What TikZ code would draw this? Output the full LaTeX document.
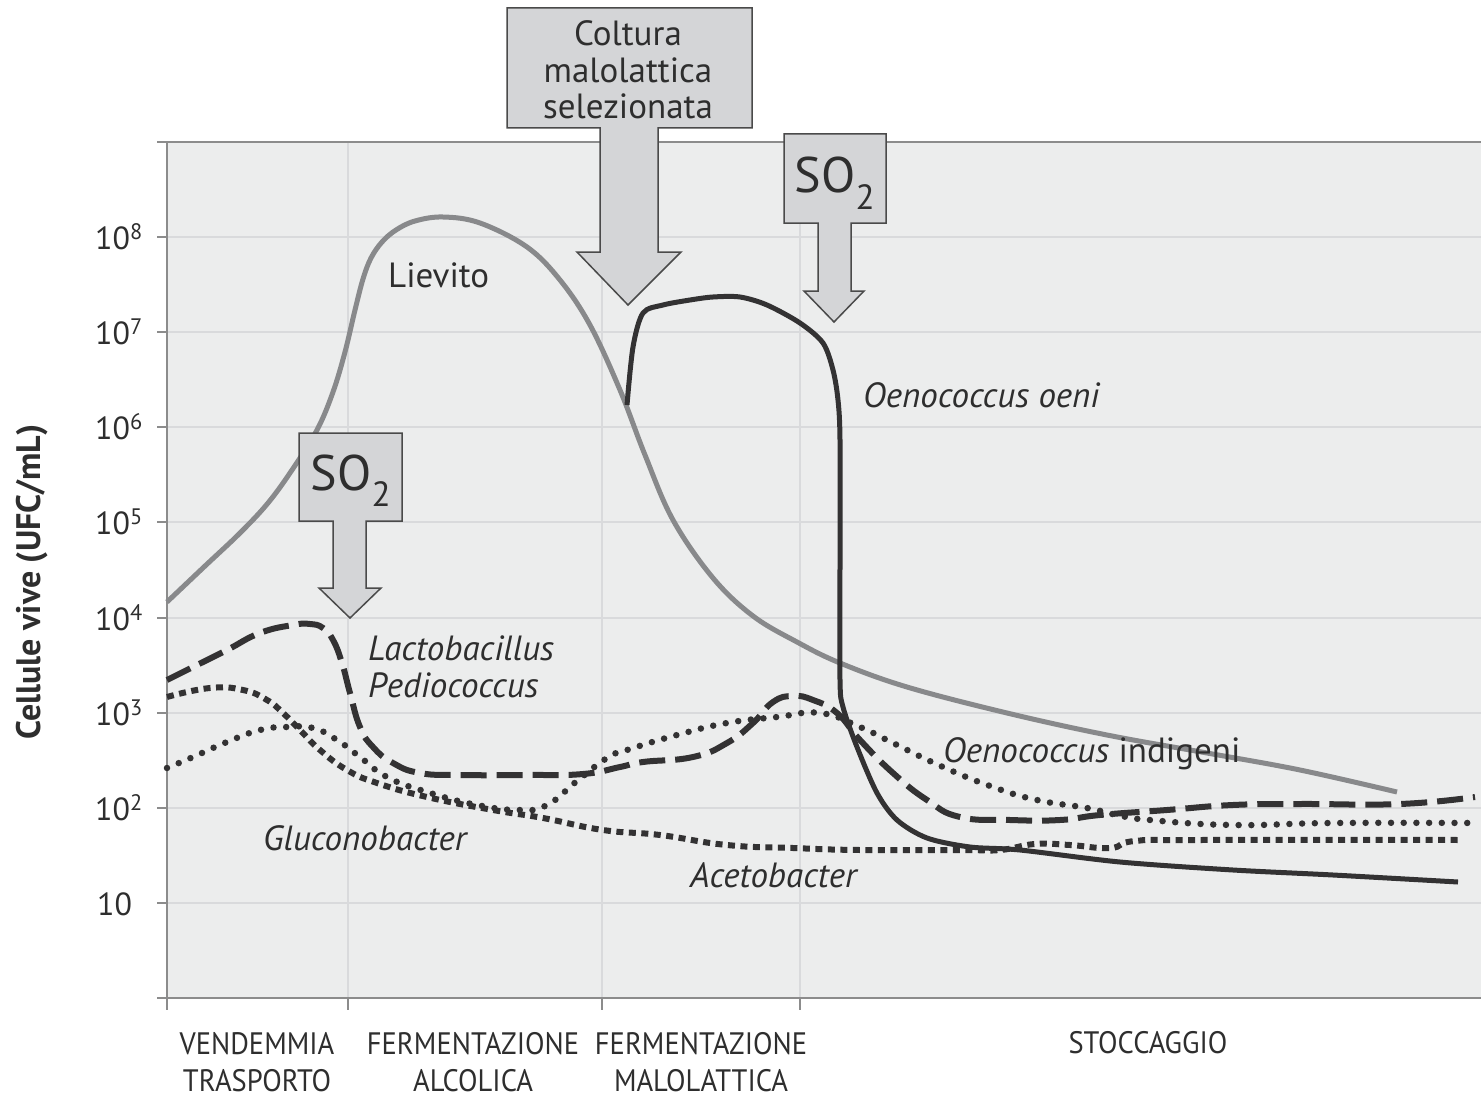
\documentclass[tikz,border=0pt]{standalone}
\usepackage{fontspec}
\setmainfont{PT Sans}
\newfontfamily\narrowfont[FakeStretch=0.92]{PT Sans}
\definecolor{plotbg}{HTML}{ECEDED}
\definecolor{gridgray}{HTML}{D9DADC}
\definecolor{axisgray}{HTML}{8C8C8C}
\definecolor{boxgray}{HTML}{D4D5D7}
\definecolor{edgegray}{HTML}{4A4A4A}
\definecolor{yeastgray}{HTML}{88898B}
\definecolor{curveblack}{HTML}{333233}
\definecolor{txtgray}{HTML}{2E2E2E}
\begin{document}
\begin{tikzpicture}[x=1pt,y=-1pt,
  every node/.style={inner sep=0pt,text=txtgray},
  gridline/.style={draw=gridgray,line width=1.3pt},
  axisline/.style={draw=axisgray,line width=2pt},
  inflow/.style={fill=boxgray,draw=edgegray,line width=1.5pt},
  lievito/.style={draw=yeastgray,line width=5pt,line join=round},
  oeni/.style={draw=curveblack,line width=5pt,line join=round},
  lacto/.style={draw=curveblack,line width=6pt,dash pattern=on 26pt off 10pt},
  aceto/.style={draw=curveblack,line width=6pt,dash pattern=on 7pt off 5.5pt},
  indig/.style={draw=curveblack,line width=6.5pt,line cap=round,dash pattern=on 0pt off 12.7pt},
  ticklab/.style={font=\fontsize{32}{38}\selectfont,anchor=base west},
  lab/.style={font=\fontsize{35}{36.5}\selectfont},
  itlab/.style={font=\fontsize{35}{36.5}\selectfont\itshape,anchor=base west},
  phase/.style={font=\narrowfont\fontsize{31}{37}\selectfont,align=center}]
\useasboundingbox (0,0) rectangle (1481,1097);
\fill[plotbg] (167,142) rectangle (1481,998);
% griglia
\foreach \y in {237,332,427,522,618,713,808,903}
  \draw[gridline] (167,\y) -- (1481,\y);
\foreach \x in {348,602,800}
  \draw[gridline] (\x,142) -- (\x,998);
% assi
\draw[axisline] (157,142) -- (1481,142);
\draw[axisline] (157,998) -- (1481,998);
\draw[axisline] (167,142) -- (167,1010);
\foreach \y in {237,332,427,522,618,713,808,903}
  \draw[axisline] (157,\y) -- (167,\y);
\foreach \x in {348,602,800}
  \draw[axisline] (\x,998) -- (\x,1010);
\foreach \k/\y in {8/237,7/332,6/427,5/522,4/618,3/713,2/808}
  \node[ticklab] (t\k) at (95,\y+12) {10\textsuperscript{\k}};
\node[ticklab] (t1) at (97,915) {10};
\node[font=\bfseries\fontsize{34}{40}\selectfont,rotate=90] (ylab) at (32,582) {Cellule vive (UFC/mL)};
% fasi
\node[phase] (vend) at (257,1062) {VENDEMMIA\\TRASPORTO};
\node[phase] (alco) at (473,1062) {FERMENTAZIONE\\ALCOLICA};
\node[phase] (malo) at (701,1062) {FERMENTAZIONE\\MALOLATTICA};
\node[phase] (stocc) at (1148,1043) {STOCCAGGIO};
% curve
\draw[lievito] plot[smooth,tension=0.6] coordinates {(167,602) (205,566) (240,533) (268,503)
  (292,470) (317,430) (333,392) (345,352) (355,310) (363,279) (371,258) (382,242) (396,230)
  (415,221) (443,217) (480,223) (527,247) (560,280) (590,325) (620,390) (645,455) (673,520)
  (713,578) (753,616) (797,642) (840,663) (907,687) (1007,713) (1107,735) (1207,753)
  (1300,770) (1397,792)};
\draw[aceto] plot[smooth,tension=0.8] coordinates {(167,697) (210,688) (243,690) (267,700)
  (283,713) (300,730) (320,750) (347,770) (377,783) (427,797) (493,810) (543,818) (603,830)
  (660,835) (727,845) (793,848) (860,850) (960,850) (1000,850) (1035,844) (1070,845)
  (1110,848) (1135,841) (1200,840) (1463,840)};
\draw[indig] plot[smooth,tension=0.8] coordinates {(167,768) (193,757) (227,742) (260,730)
  (287,727) (313,728) (337,740) (360,757) (387,777) (427,792) (477,805) (520,810) (547,805)
  (577,781) (607,758) (627,750) (677,735) (727,723) (777,717) (820,713) (860,727) (893,743)
  (943,767) (993,787) (1037,800) (1087,808) (1117,815) (1150,820) (1233,825) (1333,823)
  (1476,823)};
\draw[lacto] plot[smooth,tension=0.8] coordinates {(167,680) (193,667) (227,650) (260,633)
  (293,625) (310,624) (323,628) (333,640) (342,663) (350,693) (360,727) (373,747) (393,763)
  (420,773) (460,775) (527,775) (583,774) (620,767) (643,762) (693,757) (727,743) (753,723)
  (773,702) (793,696) (813,700) (837,713) (860,740) (893,773) (927,800) (960,817) (1010,820)
  (1060,820) (1100,815) (1167,810) (1233,805) (1300,804) (1400,804) (1475,797)};
\draw[oeni] plot[smooth,tension=0.5] coordinates {(627,405) (633,347) (643,313) (663,305)
  (690,300) (713,297) (740,297) (767,305) (800,323) (823,343) (833,370) (838,400) (840,440)
  (840,560) (840,680) (843,707) (857,747) (877,793) (897,820) (927,838) (970,847) (1020,850)
  (1120,862) (1233,870) (1333,875) (1458,882)};
% aggiunte
\draw[inflow] (299,433) -- (402,433) -- (402,521) -- (366,521) -- (366,588) -- (381,588)
  -- (350,618) -- (319,588) -- (333,588) -- (333,521) -- (299,521) -- cycle;
\draw[inflow] (507,8) -- (752,8) -- (752,128) -- (658,128) -- (658,252) -- (681,252)
  -- (628,305) -- (577,252) -- (600,252) -- (600,128) -- (507,128) -- cycle;
\draw[inflow] (784,134) -- (886,134) -- (886,223) -- (851,223) -- (851,291) -- (864,291)
  -- (834,322) -- (804,291) -- (818,291) -- (818,223) -- (784,223) -- cycle;
\node[font=\fontsize{50}{60}\selectfont,anchor=base] (so2a) at (351,490) {SO\textsubscript{2}};
\node[font=\fontsize{50}{60}\selectfont,anchor=base] (so2b) at (835,193) {SO\textsubscript{2}};
\node[lab,align=center] (coltura) at (628,70) {Coltura\\malolattica\\selezionata};
% etichette
\node[lab,anchor=base west] (lievlab) at (388,287) {Lievito};
\node[itlab] (oenilab) at (863,407) {Oenococcus oeni};
\node[itlab] (lactlab) at (368,660) {Lactobacillus};
\node[itlab] (pedilab) at (368,697) {Pediococcus};
\node[lab,anchor=base west] (indilab) at (943,762) {\itshape Oenococcus\upshape{} indigeni};
\node[itlab] (glulab) at (263,850) {Gluconobacter};
\node[itlab] (acelab) at (690,887) {Acetobacter};
\end{tikzpicture}
\end{document}
